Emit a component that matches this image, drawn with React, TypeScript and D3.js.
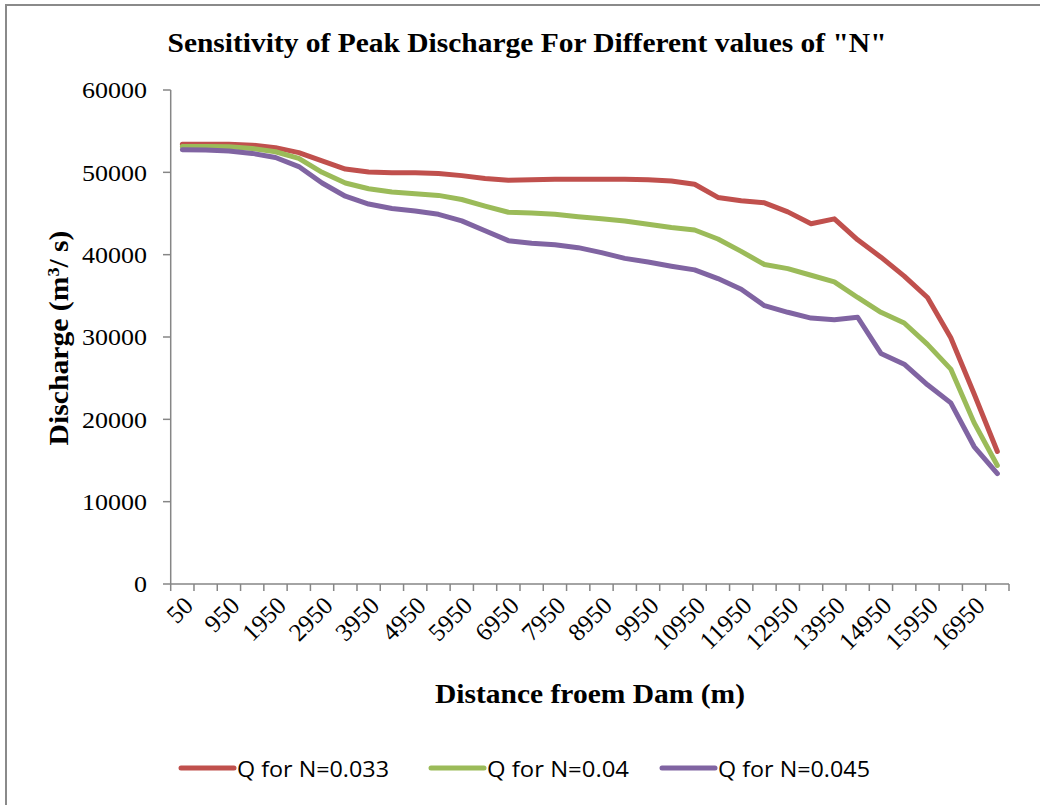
import React from 'react';
import * as d3 from 'd3';

// distance from dam (m), one category per cross-section
const distances = [50, 500, 950, 1450, 1950, 2450, 2950, 3450, 3950, 4450, 4950, 5450, 5950, 6450, 6950, 7450, 7950, 8450,
  8950, 9450, 9950, 10450, 10950, 11450, 11950, 12450, 12950, 13450, 13950, 14450, 14950, 15450, 15950, 16450, 16950, 17450];

const qN033 = [53400, 53400, 53400, 53300, 53000, 52400, 51400, 50400, 50050, 49950, 49950, 49850, 49600, 49250, 49050, 49100, 49150, 49150,
  49150, 49150, 49100, 48950, 48550, 46950, 46550, 46300, 45200, 43750, 44350, 41800, 39700, 37400, 34800, 29900, 23100, 16100];
const qN040 = [53150, 53150, 53100, 52900, 52500, 51700, 50000, 48700, 48000, 47600, 47400, 47200, 46700, 45900, 45150, 45050, 44900, 44600,
  44350, 44100, 43700, 43300, 43000, 41900, 40400, 38800, 38300, 37500, 36700, 34800, 33000, 31700, 29100, 26100, 19600, 14400];
const qN045 = [52750, 52700, 52600, 52300, 51800, 50700, 48700, 47100, 46150, 45600, 45300, 44900, 44100, 42900, 41700, 41400, 41200, 40850,
  40250, 39550, 39100, 38600, 38150, 37100, 35800, 33800, 33000, 32300, 32100, 32400, 28000, 26700, 24200, 22000, 16700, 13400];

const seriesNames = ['Q for N=0.033', 'Q for N=0.04', 'Q for N=0.045'];
const seriesColors = ['#C0504D', '#9BBB59', '#8064A2'];
const yTicks = [0, 10000, 20000, 30000, 40000, 50000, 60000];

const serif = '"Liberation Serif", "Times New Roman", serif';
const axisGray = '#868686';

export default function App() {
  const x = d3.scaleBand<number>().domain(distances).range([170.7, 1009]).padding(0);
  const y = d3.scaleLinear().domain([0, 60000]).range([584, 90]);
  const bw = x.bandwidth();
  const cx = (d: number) => (x(d) as number) + bw / 2;

  const all = [qN033, qN040, qN045];
  const line = d3.line<number>()
    .x((_, i) => cx(distances[i]))
    .y((v) => y(v));

  const bounds = d3.range(distances.length + 1).map((k) => 170.7 + k * bw);

  const legendX = [181, 431, 662];

  return (
    <svg width={1040} height={805} style={{ position: 'absolute', left: 0, top: 0, background: '#fff' }}>
      <rect x={6} y={5} width={1100} height={900} fill="#fff" stroke="#8a8a8a" strokeWidth={2} />

      <text x={527} y={52} textAnchor="middle" fontFamily={serif} fontWeight="bold" fontSize={28}
        textLength={719} lengthAdjust="spacingAndGlyphs">Sensitivity of Peak Discharge For Different values of "N"</text>

      {/* y axis */}
      <line x1={170.7} x2={170.7} y1={y(60000)} y2={y(0)} stroke={axisGray} strokeWidth={1.5} />
      {yTicks.map((t) => (
        <g key={t}>
          <line x1={163} x2={170.7} y1={y(t)} y2={y(t)} stroke={axisGray} strokeWidth={1.5} />
          <text x={147} y={y(t)} dy="0.36em" textAnchor="end" fontFamily={serif} fontSize={23}
            textLength={String(t).length * 13} lengthAdjust="spacingAndGlyphs">{t}</text>
        </g>
      ))}

      {/* x axis */}
      <line x1={170.7} x2={1009} y1={y(0)} y2={y(0)} stroke={axisGray} strokeWidth={1.5} />
      {bounds.map((b, k) => (
        <line key={k} x1={b} x2={b} y1={y(0)} y2={y(0) + 7} stroke={axisGray} strokeWidth={1.5} />
      ))}
      {distances.map((d, i) => i % 2 === 0 ? (
        <text key={d} transform={`translate(${cx(d) + 6},${601}) rotate(-45)`} textAnchor="end" dy="0.35em"
          fontFamily={serif} fontSize={25}>{d}</text>
      ) : null)}

      {/* series */}
      {all.map((vals, s) => (
        <path key={s} d={line(vals) || ''} fill="none" stroke={seriesColors[s]} strokeWidth={5}
          strokeLinejoin="round" strokeLinecap="round" />
      ))}

      <text transform="translate(58,338) rotate(-90)" textAnchor="middle" dy="0.35em" fontFamily={serif}
        fontWeight="bold" fontSize={28} textLength={215} lengthAdjust="spacingAndGlyphs">
        Discharge (m<tspan baselineShift="super" fontSize={17}>3</tspan>/ s)
      </text>
      <text x={590} y={703} textAnchor="middle" fontFamily={serif} fontWeight="bold" fontSize={28}
        textLength={310} lengthAdjust="spacingAndGlyphs">Distance froem Dam (m)</text>

      {/* legend */}
      {seriesNames.map((n, s) => (
        <g key={n}>
          <line x1={legendX[s]} x2={legendX[s] + 53} y1={768} y2={768} stroke={seriesColors[s]} strokeWidth={5}
            strokeLinecap="round" />
          <text x={legendX[s] + 56} y={777} fontFamily='"Open Sans", "Noto Sans", sans-serif' fontSize={22}
            textLength={s === 1 ? 142 : 152} lengthAdjust="spacingAndGlyphs">{n}</text>
        </g>
      ))}
    </svg>
  );
}
